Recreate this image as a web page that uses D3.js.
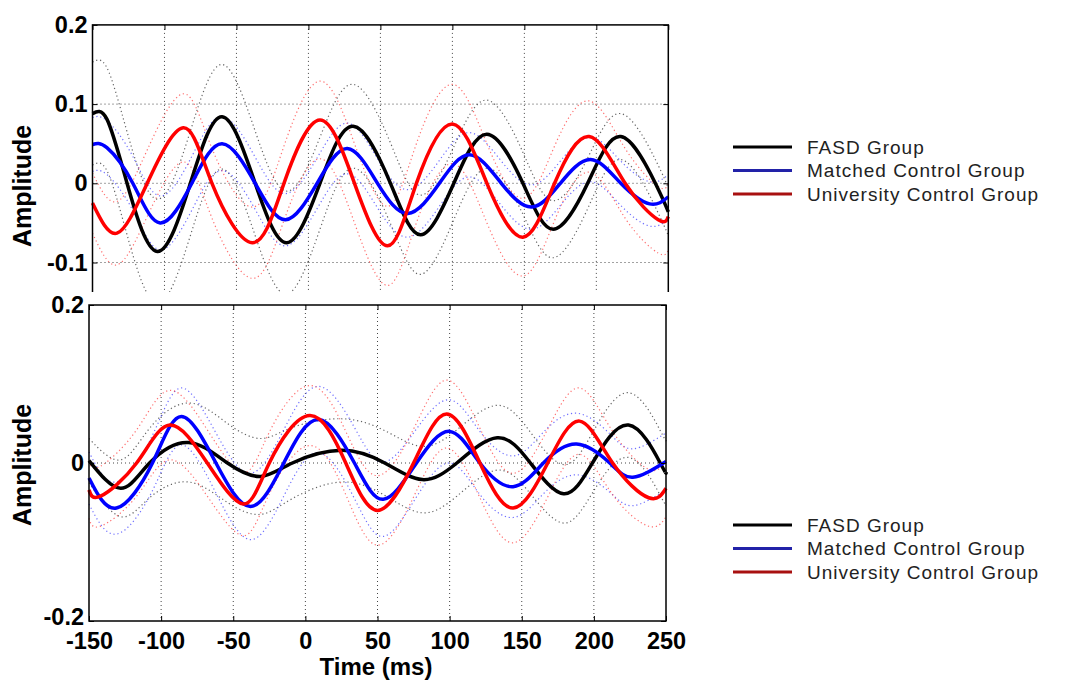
<!DOCTYPE html>
<meta charset="utf-8">
<style>
body { margin: 0; background: #fff; }
svg { display: block; font-family: "Liberation Sans", Arial, sans-serif; }
.tick text { font-size: 23.5px; font-weight: bold; fill: #000; }
.tick line { stroke: #000; stroke-width: 1; }
.grid { stroke: #444; stroke-width: 1; stroke-dasharray: 1,3; fill: none; }
.box { fill: none; stroke: #000; stroke-width: 1.5; }
.mean { fill: none; stroke-width: 3.5; stroke-linejoin: round; }
.bound { fill: none; stroke-width: 1.2; stroke-dasharray: 1.2,2.8; opacity: 0.7; }
.lbl { font-size: 24px; font-weight: bold; }
.leg { font-size: 19px; fill: #222; letter-spacing: 1px; }
</style>
<body>
<script src="https://cdn.jsdelivr.net/npm/d3@7"></script>
<script>

// axis ticks
var xTicks = [-150, -100, -50, 0, 50, 100, 150, 200, 250];
var xGrid = [-100, -50, 0, 50, 100, 150, 200];
var topYTicks = [-0.2, -0.1, 0, 0.1, 0.2];
var topYGrid = [-0.1, 0, 0.1];
var botYTicks = [-0.2, 0, 0.2];
var botYGrid = [0];
var groups = ["FASD Group", "Matched Control Group", "University Control Group"];

// top panel - knots (ms), mean amplitude, confidence half-width
var topFasdT  = [-150, -140, -126, -105, -82, -60, -37, -15, 8, 31, 57, 78, 101, 124, 149, 170, 194, 217, 241, 250];
var topFasdV  = [0.088, 0.081, 0, -0.086, 0, 0.084, 0, -0.075, 0, 0.072, 0, -0.065, 0, 0.062, 0, -0.058, 0, 0.059, 0, -0.036];
var topFasdCI = [0.065, 0.065, 0.065, 0.066, 0.066, 0.066, 0.066, 0.065, 0.058, 0.053, 0.051, 0.05, 0.046, 0.043, 0.039, 0.036, 0.032, 0.029, 0.03, 0.03];

var topMatchT  = [-150, -140, -122, -103, -81, -60, -37, -16, 6, 27, 48, 69, 91, 112, 134, 155, 175, 196, 217, 237, 250];
var topMatchV  = [0.049, 0.045, 0, -0.05, 0, 0.05, 0, -0.046, 0, 0.044, 0, -0.038, 0, 0.036, 0, -0.03, 0, 0.03, 0, -0.026, -0.017];
var topMatchCI = [0.034, 0.034, 0.034, 0.034, 0.034, 0.034, 0.033, 0.033, 0.032, 0.032, 0.031, 0.03, 0.029, 0.028, 0.028, 0.028, 0.028, 0.028, 0.028, 0.028, 0.028];

var topUnivT  = [-150, -133, -112, -87, -67, -39, -17, 8, 32, 55, 75, 100, 124, 149, 171, 195, 220, 243, 250];
var topUnivV  = [-0.025, -0.063, 0, 0.07, 0, -0.075, 0, 0.08, 0, -0.079, 0, 0.075, 0, -0.068, 0, 0.059, 0, -0.046, -0.042];
var topUnivCI = [0.038, 0.04, 0.042, 0.043, 0.044, 0.045, 0.047, 0.049, 0.05, 0.05, 0.05, 0.05, 0.05, 0.049, 0.047, 0.045, 0.044, 0.042, 0.042];

// bottom panel
var botFasdT  = [-150, -128, -108, -81, -54, -31, -9, 25, 55, 81, 105, 133, 156, 179, 199, 224, 246, 250];
var botFasdV  = [0.003, -0.032, 0, 0.026, 0, -0.017, 0, 0.016, 0, -0.021, 0, 0.032, 0, -0.039, 0, 0.048, 0, -0.012];
var botFasdCI = [0.028, 0.036, 0.044, 0.05, 0.05, 0.048, 0.045, 0.04, 0.041, 0.042, 0.042, 0.041, 0.039, 0.037, 0.038, 0.041, 0.041, 0.041];

var botMatchT  = [-150, -131, -106, -86, -62, -38, -15, 9, 34, 54, 77, 100, 121, 144, 165, 188, 211, 227, 250];
var botMatchV  = [-0.019, -0.057, 0, 0.059, 0, -0.055, 0, 0.055, 0, -0.046, 0, 0.04, 0, -0.03, 0, 0.024, 0, -0.018, 0.002];
var botMatchCI = [0.033, 0.033, 0.035, 0.036, 0.038, 0.042, 0.042, 0.042, 0.045, 0.047, 0.043, 0.04, 0.04, 0.039, 0.039, 0.039, 0.037, 0.036, 0.036];

var botUnivT  = [-150, -142, -117, -94, -68, -43, -25, 3, 28, 50, 75, 98, 121, 144, 168, 190, 213, 238, 250];
var botUnivV  = [-0.034, -0.042, 0, 0.048, 0, -0.052, 0, 0.06, 0, -0.06, 0, 0.062, 0, -0.057, 0, 0.053, 0, -0.044, -0.032];
var botUnivCI = [0.036, 0.038, 0.042, 0.044, 0.042, 0.04, 0.039, 0.038, 0.04, 0.044, 0.043, 0.043, 0.044, 0.044, 0.043, 0.042, 0.04, 0.036, 0.036];

var colors = ["#000000", "#0000ff", "#ff0000"];
var boundColors = ["#222222", "#3030ff", "#ff3030"];
var legendColors = ["#000000", "#2222a8", "#a81010"];

var svg = d3.select("body").append("svg").attr("width", 1071).attr("height", 684);

svg.append("defs").append("clipPath").attr("id", "topclip")
  .append("rect").attr("x", 0).attr("y", 0).attr("width", 1071).attr("height", 292);

function drawPanel(g, cfg) {
  var x = d3.scaleLinear().domain([-150, 250]).range(cfg.xr);
  var y = d3.scaleLinear().domain([-0.2, 0.2]).range(cfg.yr);
  var x0 = cfg.xr[0], x1 = cfg.xr[1], yb = cfg.yr[0], yt = cfg.yr[1];

  // grid
  g.selectAll(".gx").data(xGrid).enter().append("line").attr("class", "grid")
    .attr("x1", d => x(d)).attr("x2", d => x(d)).attr("y1", yt).attr("y2", yb);
  g.selectAll(".gy").data(cfg.yGrid).enter().append("line").attr("class", "grid")
    .attr("x1", x0).attr("x2", x1).attr("y1", d => y(d)).attr("y2", d => y(d));

  var line = d3.line().x(d => x(d[0])).y(d => y(d[1])).curve(d3.curveNatural);

  cfg.series.forEach(function(s, i) {
    var up = s.t.map((t, k) => [t, s.v[k] + s.ci[k]]);
    var lo = s.t.map((t, k) => [t, s.v[k] - s.ci[k]]);
    g.append("path").attr("class", "bound").style("stroke", boundColors[i]).attr("d", line(up));
    g.append("path").attr("class", "bound").style("stroke", boundColors[i]).attr("d", line(lo));
  });
  cfg.series.forEach(function(s, i) {
    var pts = s.t.map((t, k) => [t, s.v[k]]);
    g.append("path").attr("class", "mean").style("stroke", colors[i]).attr("d", line(pts));
  });

  // axes, ticks pointing inward
  var fmt = d => String(d);
  var ly = g.append("g").attr("transform", "translate(" + x0 + ",0)")
    .call(d3.axisLeft(y).tickValues(cfg.yTicks).tickFormat(fmt).tickSizeInner(-5).tickSizeOuter(0).tickPadding(5))
    .call(a => a.select(".domain").remove());
  ly.selectAll(".tick text").filter(d => d === -0.2).attr("dy", "0.15em");
  g.append("g").attr("transform", "translate(" + x1 + ",0)")
    .call(d3.axisRight(y).tickValues(cfg.yTicks).tickFormat("").tickSizeInner(-5).tickSizeOuter(0))
    .call(a => a.select(".domain").remove());
  g.append("g").attr("transform", "translate(0," + yt + ")")
    .call(d3.axisTop(x).tickValues(xTicks).tickFormat("").tickSizeInner(-5).tickSizeOuter(0))
    .call(a => a.select(".domain").remove());
  var bx = g.append("g").attr("transform", "translate(0," + yb + ")")
    .call(d3.axisBottom(x).tickValues(xTicks).tickFormat(cfg.xLabels ? fmt : "").tickSizeInner(-5).tickSizeOuter(0).tickPadding(11))
    .call(a => a.select(".domain").remove());
  bx.selectAll(".tick text").attr("dy", "0.71em");

  g.append("rect").attr("class", "box").attr("x", x0).attr("y", yt).attr("width", x1 - x0).attr("height", yb - yt);

  g.append("text").attr("class", "lbl").attr("text-anchor", "middle")
    .style("font-size", "25px")
    .attr("transform", "translate(31," + cfg.ampY + ") rotate(-90)").text("Amplitude");

  // legend
  groups.forEach(function(name, i) {
    var yy = cfg.legY + i * 23.5;
    svg.append("line").attr("x1", 733).attr("x2", 792).attr("y1", yy).attr("y2", yy)
      .attr("stroke", legendColors[i]).attr("stroke-width", 3);
    svg.append("text").attr("class", "leg").attr("x", 807).attr("y", yy + 6.5).text(name);
  });
}

var topG = svg.append("g").attr("clip-path", "url(#topclip)");
drawPanel(topG, {
  xr: [92.5, 668.3], yr: [341.7, 24.9], yTicks: topYTicks, yGrid: topYGrid, xLabels: false,
  ampY: 186, legY: 147,
  series: [
    {t: topFasdT, v: topFasdV, ci: topFasdCI},
    {t: topMatchT, v: topMatchV, ci: topMatchCI},
    {t: topUnivT, v: topUnivV, ci: topUnivCI}
  ]
});

var botG = svg.append("g");
drawPanel(botG, {
  xr: [89, 666], yr: [621, 305], yTicks: botYTicks, yGrid: botYGrid, xLabels: true,
  ampY: 465, legY: 525,
  series: [
    {t: botFasdT, v: botFasdV, ci: botFasdCI},
    {t: botMatchT, v: botMatchV, ci: botMatchCI},
    {t: botUnivT, v: botUnivV, ci: botUnivCI}
  ]
});

svg.append("text").attr("class", "lbl").attr("text-anchor", "middle")
  .attr("x", 376).attr("y", 675).text("Time (ms)");

</script>
</body>
